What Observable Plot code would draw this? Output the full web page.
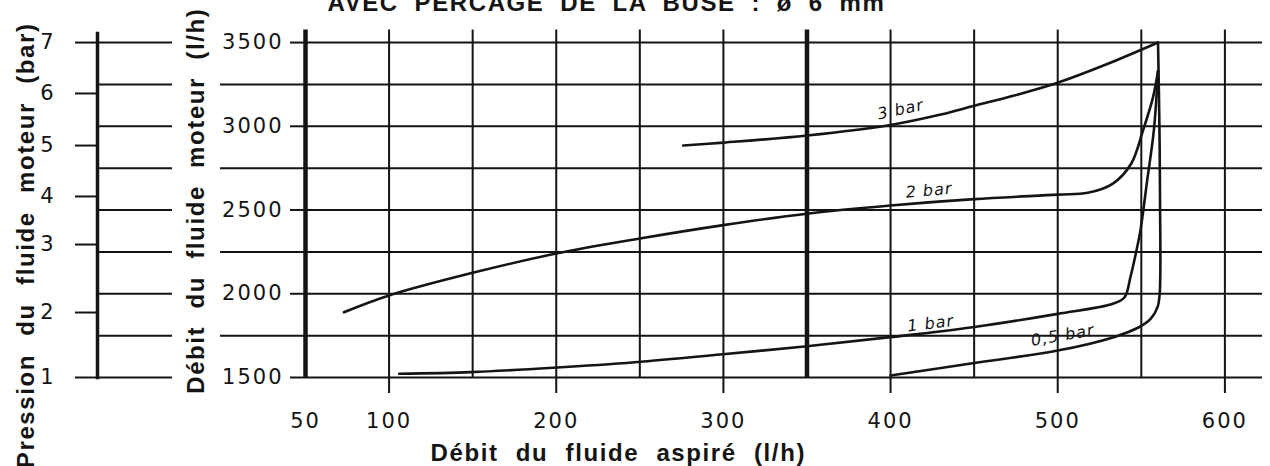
<!DOCTYPE html>
<html>
<head>
<meta charset="utf-8">
<script src="https://cdn.jsdelivr.net/npm/d3@7"></script>
<script src="https://cdn.jsdelivr.net/npm/@observablehq/plot@0.6"></script>
<style>
html, body { margin: 0; padding: 0; background: #fff; }
#chart svg { display: block; }
</style>
</head>
<body>
<div id="chart"></div>
<script>
// ---- texts ----
const mainTitle = "AVEC PERCAGE DE LA BUSE : ø 6 mm";
const xTitle = "Débit du fluide aspiré (l/h)";
const flowTitle = "Débit du fluide moteur (l/h)";
const pressureTitle = "Pression du fluide moteur (bar)";

// ---- axes / grid values ----
const xLabeledTicks = [100, 200, 300, 400, 500, 600];
const xOriginTick = [50];
const xGridThin = [100, 150, 200, 250, 300, 400, 450, 500, 550, 600];
const xGridThick = [50, 350];
const yLabeledTicks = [1500, 2000, 2500, 3000, 3500];
const yMinorTicks = [1750, 2250, 2750, 3250];
const yGrid = [1500, 1750, 2000, 2250, 2500, 2750, 3000, 3250, 3500];

// pressure scale (bar) and the motive-fluid flow (l/h) each mark sits at
const pressureBar = [1, 2, 3, 4, 5, 6, 7];
const pressureFlow = [1500, 1888, 2294, 2581, 2885, 3196, 3500];

// ---- curves: sucked flow (l/h) vs motive flow (l/h) ----
const bar3X = [276, 298, 350, 400, 430, 449, 474, 500, 530, 560];
const bar3Y = [2885, 2901, 2945, 3008, 3070, 3120, 3184, 3260, 3373, 3500];

const bar2X = [73, 100, 150, 200, 250, 300, 350, 400, 450, 500, 518, 533, 544, 551, 557, 560];
const bar2Y = [1890, 1990, 2125, 2240, 2330, 2410, 2478, 2527, 2565, 2592, 2603, 2658, 2778, 2975, 3173, 3330];

const bar1X = [106, 149, 198, 247, 298, 350, 400, 449, 500, 533, 540, 543.5, 546.5, 549.5, 553.5, 557.5, 560];
const bar1Y = [1522, 1532, 1558, 1591, 1637, 1687, 1741, 1800, 1880, 1940, 1979, 2100, 2230, 2380, 2676, 2975, 3330];

const bar05X = [400, 449, 500, 533.5, 548.5, 555.7, 559.7, 561, 561.2, 560.8, 560];
const bar05Y = [1512, 1585, 1661, 1741, 1800, 1852, 1920, 2001, 2560, 3030, 3500];

// ---- curve labels ----
const curveLabels = ["3 bar", "2 bar", "1 bar", "0,5 bar"];
const curveLabelX = [406, 423, 424, 503];
const curveLabelY = [3100, 2616, 1822, 1751];
const curveLabelAngle = [-12, -5, -7, -10];

const series = [
  ["3 bar", bar3X, bar3Y],
  ["2 bar", bar2X, bar2Y],
  ["1 bar", bar1X, bar1Y],
  ["0,5 bar", bar05X, bar05Y]
];
const rows = series.flatMap(([name, xs, ys]) => xs.map((x, i) => ({series: name, x, y: ys[i]})));
const labelRows = curveLabels.map((t, i) => ({text: t, x: curveLabelX[i], y: curveLabelY[i], a: curveLabelAngle[i]}));

const ink = "#141414";
const fmt = d3.format("d");

const chart = Plot.plot({
  width: 1270,
  height: 466,
  marginLeft: 305,
  marginRight: 8,
  marginTop: 29.5,
  marginBottom: 89,
  x: {domain: [50, 622.5], label: null},
  y: {domain: [1500, 3575], label: null},
  style: {fontFamily: "DejaVu Sans", color: ink, background: "#fff"},
  marks: [
    Plot.gridY(yGrid, {stroke: ink, strokeOpacity: 1, strokeWidth: 2}),
    Plot.gridX(xGridThin, {stroke: ink, strokeOpacity: 1, strokeWidth: 2}),
    Plot.gridX(xGridThick, {stroke: ink, strokeOpacity: 1, strokeWidth: 4.5}),
    Plot.axisY(yMinorTicks, {anchor: "left", tickSize: 85, tickFormat: () => "", label: null, strokeWidth: 2}),
    Plot.axisY(yLabeledTicks, {anchor: "left", tickSize: 15, tickPadding: 7, tickFormat: fmt, fontSize: 21, label: null, strokeWidth: 2}),
    Plot.axisY(yGrid, {anchor: "left", dx: -133, tickSize: 75, tickFormat: () => "", label: null, strokeWidth: 2}),
    Plot.axisY(pressureFlow, {anchor: "left", dx: -208, tickSize: 22, tickPadding: 20, fontSize: 21, label: null, strokeWidth: 2,
      tickFormat: d => String(pressureBar[pressureFlow.indexOf(d)])}),
    Plot.frame({anchor: "left", dx: -208, stroke: ink, strokeWidth: 3.5, insetTop: 3.5}),
    Plot.axisX(xLabeledTicks, {anchor: "bottom", tickSize: 16, tickPadding: 20, tickFormat: fmt, fontSize: 21, label: null, strokeWidth: 2}),
    Plot.axisX(xOriginTick, {anchor: "bottom", tickSize: 0, tickPadding: 36, tickFormat: fmt, fontSize: 21, label: null}),
    Plot.line(rows, {x: "x", y: "y", z: "series", curve: "catmull-rom", stroke: ink, strokeWidth: 2.6}),
    Plot.text(labelRows, {x: "x", y: "y", text: "text", rotate: "a", fontStyle: "italic", fontSize: 16, fill: ink}),
    Plot.text([mainTitle], {text: d => d, frameAnchor: "top-left", dx: 22, dy: -19.5, textAnchor: "start", lineAnchor: "bottom",
      fontFamily: "Liberation Sans", fontWeight: "bold", fontSize: 24, fill: ink}),
    Plot.text([xTitle], {text: d => d, frameAnchor: "bottom-left", dx: 125, dy: 83, textAnchor: "start", lineAnchor: "bottom",
      fontFamily: "Liberation Sans", fontWeight: "bold", fontSize: 24, fill: ink}),
    Plot.text([flowTitle], {text: d => d, frameAnchor: "left", dx: -102, dy: -3, rotate: -90, textAnchor: "middle", lineAnchor: "bottom",
      fontFamily: "Liberation Sans", fontWeight: "bold", fontSize: 24, fill: ink}),
    Plot.text([pressureTitle], {text: d => d, frameAnchor: "top-left", dx: -272, dy: -7.5, rotate: -90, textAnchor: "end", lineAnchor: "bottom",
      fontFamily: "Liberation Sans", fontWeight: "bold", fontSize: 24, fill: ink})
  ]
});
document.getElementById("chart").appendChild(chart);

// text spacing (letter / word) applied to the rendered text elements
const spacing = new Map([
  [mainTitle, [1.6, 7.5]],
  [xTitle, [1.6, 9]],
  [flowTitle, [1.6, 9]],
  [pressureTitle, [1.6, 10]]
]);
chart.querySelectorAll("text").forEach(t => {
  const s = t.textContent;
  let ls = null, ws = null;
  if (spacing.has(s)) [ls, ws] = spacing.get(s);
  else if (/^\d+$/.test(s)) ls = 2;
  else if (/bar$/.test(s)) ls = 1;
  if (ls != null) { t.setAttribute("letter-spacing", ls); t.style.letterSpacing = ls + "px"; }
  if (ws != null) { t.setAttribute("word-spacing", ws); t.style.wordSpacing = ws + "px"; }
});
</script>
</body>
</html>
